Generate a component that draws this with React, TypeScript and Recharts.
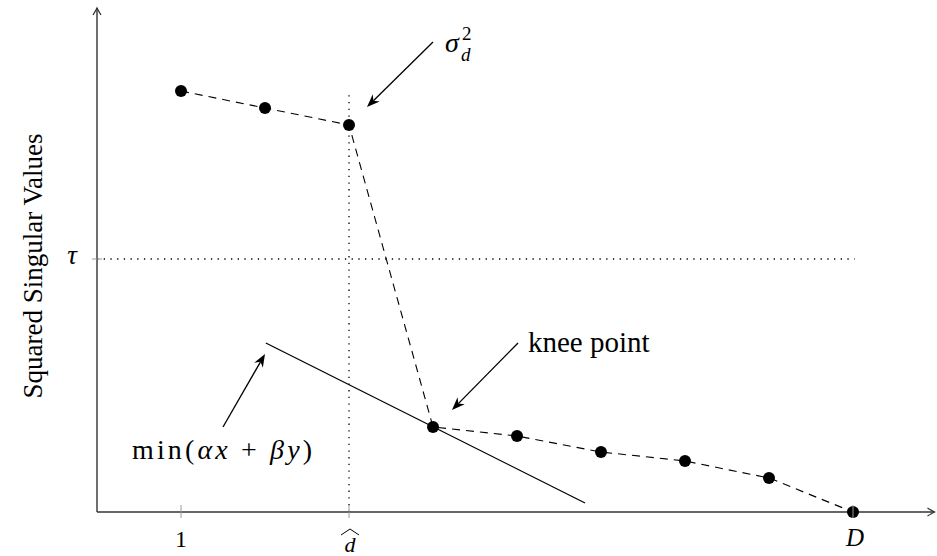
import * as React from 'react';
import {
    Line,
    LineChart,
    ReferenceDot,
    ReferenceLine,
    XAxis,
    YAxis
} from 'recharts';

// singular value index and squared singular values
const rank = [1, 2, 3, 4, 5, 6, 7, 8, 9];
const sqValues = [42.1, 40.4, 38.7, 8.5, 7.6, 6.0, 5.1, 3.4, 0];

const xTicks = [1, 3, 9];
const xTickLabels = ['1', 'd', 'D'];
const tau = 25.3;
const dHat = 3;
const xMax = 10;
const yMax = 50.4;

// tangent line min(ax + by) touching the knee
const tangent = [{ x: 2.01, y: 16.9 }, { x: 5.81, y: 0.9 }];

// annotation arrows [tail, tip]
const sigmaArrow = [{ x: 4.0, y: 47.0 }, { x: 3.214, y: 40.5 }];
const kneeArrow = [{ x: 5.012, y: 16.9 }, { x: 4.226, y: 10.2 }];
const minArrow = [{ x: 1.5, y: 8.5 }, { x: 2.0, y: 15.8 }];

const data = rank.map((r, i) => ({ x: r, y: sqValues[i] }));

const FONT = 'Liberation Serif, DejaVu Serif, serif';
const serif = { fontFamily: FONT };

const unit = (x1: number, y1: number, x2: number, y2: number) => {
    const dx = x2 - x1;
    const dy = y2 - y1;
    const len = Math.sqrt(dx * dx + dy * dy) || 1;
    return { ux: dx / len, uy: dy / len };
};

// solid arrow with a filled latex-like head
const AnnotArrow = (p: any) => {
    const { x1, y1, x2, y2 } = p;
    const { ux, uy } = unit(x1, y1, x2, y2);
    const nx = -uy;
    const ny = ux;
    const L = 13;
    const w = 5;
    const bx = x2 - L * ux;
    const by = y2 - L * uy;
    const mx = x2 - (L - 4) * ux;
    const my = y2 - (L - 4) * uy;
    const head = `M${x2},${y2} L${bx + w * nx},${by + w * ny} L${mx},${my} L${bx - w * nx},${by - w * ny} Z`;
    return (
        <g>
            <line x1={x1} y1={y1} x2={mx} y2={my} stroke="#000" strokeWidth={1.3} />
            <path d={head} fill="#000" />
        </g>
    );
};

// axis line with a small open arrow tip
const AxisArrow = (p: any) => {
    const { x1, y1, x2, y2 } = p;
    const { ux, uy } = unit(x1, y1, x2, y2);
    const nx = -uy;
    const ny = ux;
    const L = 7;
    const w = 4;
    const tip = `M${x2 - L * ux + w * nx},${y2 - L * uy + w * ny} Q${x2 - 2 * ux + 1 * nx},${y2 - 2 * uy + 1 * ny} ${x2},${y2} Q${x2 - 2 * ux - 1 * nx},${y2 - 2 * uy - 1 * ny} ${x2 - L * ux - w * nx},${y2 - L * uy - w * ny}`;
    return (
        <g>
            <line x1={x1} y1={y1} x2={x2} y2={y2} stroke="#333" strokeWidth={1.4} />
            <path d={tip} fill="none" stroke="#333" strokeWidth={1.3} />
        </g>
    );
};

const XTick = (p: any) => {
    const { x, y, payload, index } = p;
    const label = xTickLabels[index] ?? String(payload.value);
    return (
        <g>
            <line x1={x} y1={y - 7} x2={x} y2={y + 6} stroke="#999" strokeWidth={1} />
            {label === '1' && (
                <text x={x} y={y + 35} textAnchor="middle" style={serif} fontSize={24} fill="#000">1</text>
            )}
            {label === 'd' && (
                <g>
                    <path d={`M${x - 8},${y + 23} L${x + 1},${y + 17} L${x + 10},${y + 23}`} fill="none" stroke="#000" strokeWidth={1} />
                    <text x={x + 1} y={y + 40} textAnchor="middle" style={serif} fontStyle="italic" fontSize={22} fill="#000">d</text>
                </g>
            )}
            {label === 'D' && (
                <text x={x + 2} y={y + 34} textAnchor="middle" style={serif} fontStyle="italic" fontSize={25} fill="#000">D</text>
            )}
        </g>
    );
};

const YTick = (p: any) => {
    const { x, y } = p;
    return (
        <g>
            <line x1={x - 5} y1={y} x2={x + 5} y2={y} stroke="#999" strokeWidth={1} />
            <text x={x - 25} y={y + 5} textAnchor="middle" style={serif} fontStyle="italic" fontSize={27} fill="#000">τ</text>
        </g>
    );
};

const SigmaLabel = (p: any) => {
    const { cx, cy } = p;
    return (
        <g fill="#000">
            <text x={cx} y={cy} style={serif} fontSize={28} fontStyle="italic">σ</text>
            <text x={cx + 17} y={cy - 12} style={serif} fontSize={19}>2</text>
            <text x={cx + 16} y={cy + 9} style={serif} fontSize={19} fontStyle="italic">d</text>
        </g>
    );
};

const KneeLabel = (p: any) => (
    <text x={p.cx} y={p.cy} style={serif} fontSize={29} fill="#000">knee point</text>
);

const MinLabel = (p: any) => (
    <text x={p.cx} y={p.cy} style={serif} fontSize={28} fill="#000" textLength={180} lengthAdjust="spacing">
        min(<tspan fontStyle="italic">αx</tspan> + <tspan fontStyle="italic">βy</tspan>)
    </text>
);

export default function App() {
    return (
        <div style={{ position: 'absolute', left: 0, top: 0, background: '#fff', fontFamily: FONT }}>
            <LineChart width={937} height={556} data={data} margin={{ top: 8, right: 0, bottom: 0, left: 0 }}>
                <XAxis
                    dataKey="x"
                    type="number"
                    domain={[0, xMax]}
                    ticks={xTicks}
                    height={44}
                    axisLine={false}
                    tickLine={false}
                    tickSize={0}
                    tickMargin={0}
                    tick={<XTick />}
                    interval={0}
                />
                <YAxis
                    type="number"
                    domain={[0, yMax]}
                    ticks={[tau]}
                    width={97}
                    axisLine={false}
                    tickLine={false}
                    tickSize={0}
                    tickMargin={0}
                    tick={<YTick />}
                    label={{
                        content: () => (
                            <text x={42} y={266} transform="rotate(-90 42 266)" textAnchor="middle" style={serif} fontSize={27} fill="#000">
                                Squared Singular Values
                            </text>
                        )
                    }}
                />
                <ReferenceLine segment={[{ x: 0, y: tau }, { x: 9.02, y: tau }]} stroke="#000" strokeWidth={1.3} strokeDasharray="1.3 5.4" ifOverflow="visible" />
                <ReferenceLine segment={[{ x: dHat, y: 0 }, { x: dHat, y: 41.9 }]} stroke="#000" strokeWidth={1.3} strokeDasharray="1.3 5.4" ifOverflow="visible" />
                <ReferenceLine segment={[{ x: 0, y: 0 }, { x: 9.97, y: 0 }]} shape={AxisArrow} ifOverflow="visible" />
                <ReferenceLine segment={[{ x: 0, y: 0 }, { x: 0, y: yMax }]} shape={AxisArrow} ifOverflow="visible" />
                <ReferenceLine segment={tangent} stroke="#000" strokeWidth={1.3} ifOverflow="visible" />
                <ReferenceLine segment={sigmaArrow} shape={AnnotArrow} ifOverflow="visible" />
                <ReferenceLine segment={kneeArrow} shape={AnnotArrow} ifOverflow="visible" />
                <ReferenceLine segment={minArrow} shape={AnnotArrow} ifOverflow="visible" />
                <ReferenceDot x={4.143} y={46.0} r={0} shape={SigmaLabel} ifOverflow="visible" />
                <ReferenceDot x={5.131} y={16.0} r={0} shape={KneeLabel} ifOverflow="visible" />
                <ReferenceDot x={0.417} y={5.3} r={0} shape={MinLabel} ifOverflow="visible" />
                <Line
                    type="linear"
                    dataKey="y"
                    stroke="#000"
                    strokeWidth={1.1}
                    strokeDasharray="8 6"
                    dot={{ r: 6, fill: '#000', stroke: '#000', strokeWidth: 0 }}
                    activeDot={false}
                    isAnimationActive={false}
                />
            </LineChart>
        </div>
    );
}
